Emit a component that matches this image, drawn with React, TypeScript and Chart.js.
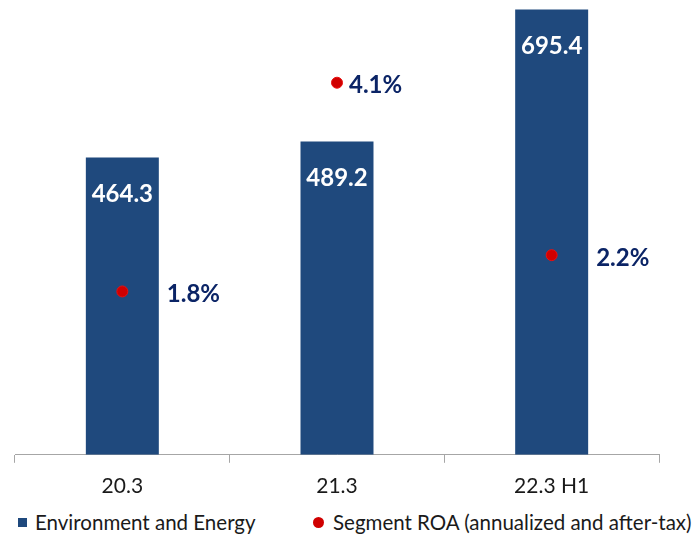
import React, { useEffect, useRef } from "react";
import { Chart, registerables } from "chart.js";

Chart.register(...registerables);

const categories = ["20.3", "21.3", "22.3 H1"];
const assetValues = [464.3, 489.2, 695.4];
const roaValues = [1.8, 4.1, 2.2];
const seriesNames = ["Environment and Energy", "Segment ROA (annualized and after-tax)"];

const FONT = "Lato, 'Open Sans', sans-serif";
const NAVY = "#1f497d";
const LABEL_NAVY = "#0b2466";
const RED = "#d00000";
const TEXT = "#1a1a1a";

const labelPlugin = {
  id: "valueLabels",
  afterDatasetsDraw(chart: any) {
    const ctx = chart.ctx;
    const barMeta = chart.getDatasetMeta(0);
    const ptMeta = chart.getDatasetMeta(1);
    ctx.save();
    ctx.font = `bold 24px ${FONT}`;
    ctx.fillStyle = "#ffffff";
    ctx.textAlign = "center";
    ctx.textBaseline = "middle";
    barMeta.data.forEach((bar: any, i: number) => {
      ctx.fillText(assetValues[i].toFixed(1), bar.x, bar.y + 37);
    });
    ctx.fillStyle = LABEL_NAVY;
    ctx.textAlign = "left";
    ptMeta.data.forEach((pt: any, i: number) => {
      const bar = barMeta.data[i];
      const inside = pt.y > bar.y;
      const x = inside ? bar.x + bar.width / 2 + 8 : pt.x + 12;
      ctx.fillText(roaValues[i].toFixed(1) + "%", x, pt.y + 3);
    });
    ctx.restore();
  },
};

export default function App() {
  const ref = useRef<HTMLCanvasElement>(null);
  useEffect(() => {
    if (!ref.current) return;
    const chart = new Chart(ref.current, {
      type: "bar",
      data: {
        labels: categories,
        datasets: [
          {
            type: "bar",
            label: seriesNames[0],
            data: assetValues,
            backgroundColor: NAVY,
            borderWidth: 0,
            barPercentage: 0.34,
            categoryPercentage: 1,
            yAxisID: "y",
            order: 1,
          } as any,
          {
            type: "line",
            label: seriesNames[1],
            data: roaValues,
            showLine: false,
            pointRadius: 5.5,
            pointBackgroundColor: RED,
            pointBorderColor: "#e81010",
            pointBorderWidth: 1,
            backgroundColor: RED,
            borderColor: RED,
            yAxisID: "y1",
            order: 0,
          } as any,
        ],
      },
      options: {
        animation: false,
        responsive: true,
        maintainAspectRatio: false,
        layout: { padding: { left: 15, right: 39, top: 3, bottom: 0 } },
        plugins: {
          tooltip: { enabled: false },
          legend: { display: false },
        },
        scales: {
          x: {
            offset: true,
            grid: {
              offset: true,
              drawOnChartArea: false,
              drawTicks: true,
              tickLength: 8,
              color: "#a6a6a6",
            },
            border: { color: "#a6a6a6" },
            ticks: {
              color: TEXT,
              font: { family: FONT, size: 21 },
              padding: 11,
            },
          },
          y: { display: false, min: 0, max: 700 },
          y1: { display: false, min: 0, max: 4.94, position: "right" },
        },
      },
      plugins: [labelPlugin],
    });
    return () => chart.destroy();
  }, []);

  const legendText: React.CSSProperties = {
    position: "absolute",
    top: 0,
    fontFamily: FONT,
    fontSize: 20.5,
    lineHeight: "25px",
    color: TEXT,
    whiteSpace: "nowrap",
  };

  return (
    <div style={{ position: "fixed", left: 0, top: 0, width: 698, height: 536, background: "#fff" }}>
      <div style={{ position: "absolute", left: 0, top: 0, width: 698, height: 510 }}>
        <canvas ref={ref} />
      </div>
      <div style={{ position: "absolute", left: 0, top: 510, width: 698, height: 25 }}>
        <span style={{ position: "absolute", left: 18, top: 8, width: 9, height: 9, background: NAVY }} />
        <span style={{ ...legendText, left: 35 }}>{seriesNames[0]}</span>
        <span
          style={{
            position: "absolute",
            left: 313,
            top: 7,
            width: 11,
            height: 11,
            borderRadius: "50%",
            background: RED,
          }}
        />
        <span style={{ ...legendText, left: 333 }}>{seriesNames[1]}</span>
      </div>
    </div>
  );
}
